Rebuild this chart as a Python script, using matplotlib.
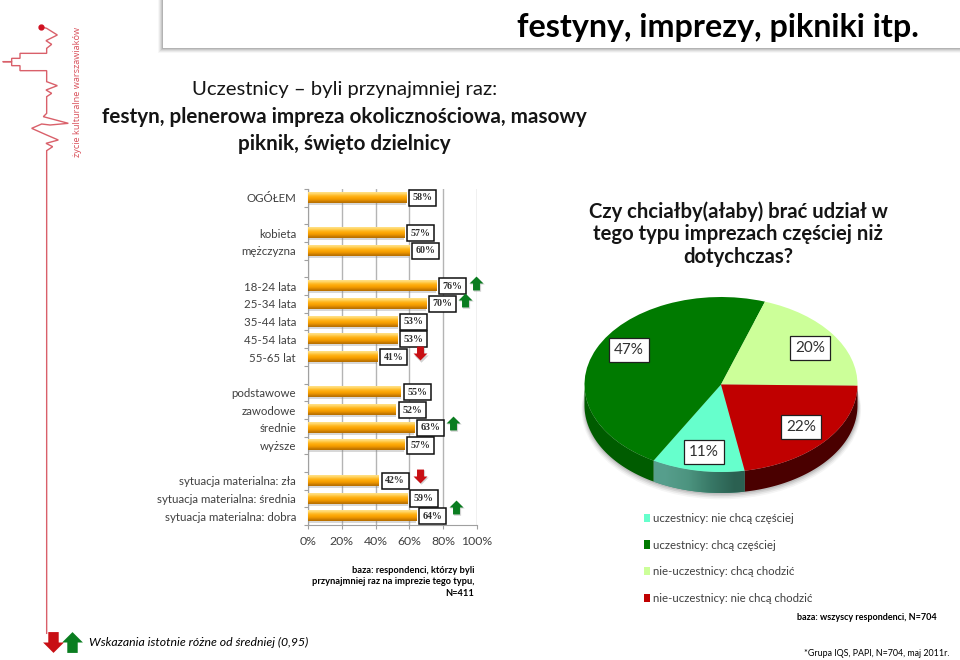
import numpy as np
import matplotlib
matplotlib.use("Agg")
import matplotlib.pyplot as plt
from matplotlib.path import Path
from matplotlib.patches import PathPatch, Rectangle, Ellipse
from matplotlib.ticker import PercentFormatter, FixedLocator

plt.rcParams['font.family'] = ['Lato', 'DejaVu Sans']

W, H = 960, 660
DARK = '#404040'

categories = ['OGÓŁEM', '', 'kobieta', 'mężczyzna', '', '18-24 lata', '25-34 lata', '35-44 lata',
              '45-54 lata', '55-65 lat', '', 'podstawowe', 'zawodowe', 'średnie', 'wyższe', '',
              'sytuacja materialna: zła', 'sytuacja materialna: średnia', 'sytuacja materialna: dobra']
values = [58, None, 57, 60, None, 76, 70, 53, 53, 41, None, 55, 52, 63, 57, None, 42, 59, 64]
up_arrows = [('18-24 lata', 99.5, -0.17), ('25-34 lata', 93, -0.2), ('średnie', 86, -0.25), ('sytuacja materialna: dobra', 87.5, -0.5)]
down_arrows = [('55-65 lat', 66, -0.2), ('sytuacja materialna: zła', 66, -0.25)]

pie_labels = ['uczestnicy: nie chcą częściej', 'uczestnicy: chcą częściej',
              'nie-uczestnicy: chcą chodzić', 'nie-uczestnicy: nie chcą chodzić']
pie_values = [11, 47, 20, 22]
pie_colors = ['#66ffcc', '#007a00', '#ccff99', '#c00000']
pie_side_colors = ['#3f8f7c', '#005c00', '#ccff99', '#4a0000']
pie_box_px = [(704, 452), (629, 350), (810, 348), (801, 427)]

fig = plt.figure(figsize=(W / 100, H / 100), dpi=100, facecolor='white')

def axes_px(x0, y0, x1, y1, **kw):
    return fig.add_axes([x0 / W, 1 - y1 / H, (x1 - x0) / W, (y1 - y0) / H], **kw)

# page layer in pixel coordinates
bg = axes_px(0, 0, W, H)
bg.set_xlim(0, W); bg.set_ylim(H, 0); bg.axis('off')

# header panel with soft shadow
for i, a in zip(range(5, 0, -1), [.06, .1, .14, .2, .28]):
    bg.add_patch(Rectangle((163 - i, -5), W, 48 + 5 + i, fc='#808080', ec='none', alpha=a))
bg.add_patch(Rectangle((163, -5), W, 53, fc='white', ec='none'))

# logo: pulse line
logo_zoom = [(122, 80), (140, 85), (172, 105), (138, 122), (155, 133), (140, 145), (140, 160), (60, 160),
             (60, 175), (35, 175), (35, 185), (8, 185), (35, 185), (35, 197), (60, 197), (60, 212),
             (140, 212), (140, 245), (172, 257), (138, 270), (155, 280), (140, 290), (140, 340), (130, 350),
             (205, 370), (150, 375), (125, 372), (95, 385), (140, 405), (175, 420), (138, 430), (158, 440),
             (140, 452), (140, 1900)]
lx, ly = np.array(logo_zoom).T / 3
bg.plot(lx, ly, color='#d9606a', lw=1.0, solid_joinstyle='miter')
bg.plot([40.7], [26.7], 'o', color='#d01020', ms=3.5)
bg.text(78, 92, 'życie kulturalne warszawiaków', rotation=90, color='#d9505a', fontsize=6.6,
        ha='center', va='center', family=['Open Sans', 'DejaVu Sans'])

bg.text(517, 27, 'festyny, imprezy, pikniki itp.', ha='left', va='center', fontsize=23.2, fontweight='bold', color='black')
bg.text(345, 90, 'Uczestnicy – byli przynajmniej raz:', ha='center', va='center', fontsize=14.6, color='#151515')
bg.text(344, 117, 'festyn, plenerowa impreza okolicznościowa, masowy', ha='center', va='center', fontsize=14.85,
        fontweight='bold', color='#151515')
bg.text(344, 144, 'piknik, święto dzielnicy', ha='center', va='center', fontsize=14.85, fontweight='bold', color='#151515')
bg.text(738, 234, 'Czy chciałby(ałaby) brać udział w\ntego typu imprezach częściej niż\ndotychczas?',
        ha='center', va='center', fontsize=14.6, fontweight='bold', color='#151515', linespacing=1.17)

bg.text(474, 582, 'baza: respondenci, którzy byli\nprzynajmniej raz na imprezie tego typu,\nN=411',
        ha='right', va='center', fontsize=6.7, fontweight='bold', color='black', linespacing=1.35)
bg.text(937, 618, 'baza: wszyscy respondenci, N=704', ha='right', va='center', fontsize=6.5, fontweight='bold', color='black')
bg.text(950, 654, '*Grupa IQS, PAPI, N=704, maj 2011r.', ha='right', va='center', fontsize=6.4, color='black')
bg.text(89, 642, 'Wskazania istotnie różne od średniej (0,95)', ha='left', va='center', fontsize=8.85,
        fontstyle='italic', color='black')

# arrow marker shapes
up_path = Path([(-.25, -.5), (.25, -.5), (.25, 0), (.5, 0), (0, .5), (-.5, 0), (-.25, 0), (-.25, -.5)], closed=True)
down_path = Path([(-.25, .5), (.25, .5), (.25, 0), (.5, 0), (0, -.5), (-.5, 0), (-.25, 0), (-.25, .5)], closed=True)

bg.plot([72], [642], marker=up_path, ms=15, color='#0a7d20', mec='none')
bg.plot([53], [642], marker=down_path, ms=15, color='#c80f14', mec='none')

# bar chart
ax = axes_px(308, 189, 477, 525)
ax.patch.set_alpha(0)
ypos = np.arange(len(categories))
vals = [np.nan if v is None else v for v in values]
ax.set_axisbelow(True)
ax.xaxis.grid(True, color='#b4b4b4', lw=1)
# soft shadow, base bar, then a cylinder shading
ax.barh(ypos + .1, vals, height=.6, color='#808080', alpha=.3, zorder=2)
bars = ax.barh(ypos, vals, height=.57, color='#f5a800', zorder=3)
grad = np.array([[[1, .88, .52]], [[1, .78, .25]], [[1, .68, .06]], [[.98, .64, 0]], [[.9, .56, 0]], [[.72, .44, 0]]])
for b, v in zip(bars, vals):
    if not np.isnan(v):
        ax.imshow(grad, extent=(0, v, b.get_y() + b.get_height(), b.get_y()), aspect='auto', zorder=4, interpolation='bicubic')
        ax.annotate(f'{v:.0f}%', (v, b.get_y() + b.get_height() / 2), xytext=(11.7, 0), textcoords='offset points',
                    ha='center', va='center', fontsize=7.2, fontweight='bold', color='#303030',
                    family=['Liberation Serif', 'DejaVu Serif'], zorder=6,
                    bbox=dict(boxstyle='square,pad=0.36', fc='white', ec='#101010', lw=1.1))
ax.set_xlim(0, 100)
ax.set_ylim(len(categories) - .5, -.5)
ax.set_xticks([0, 20, 40, 60, 80, 100])
ax.xaxis.set_major_formatter(PercentFormatter(100, decimals=0))
ax.set_yticks(ypos)
ax.set_yticklabels(categories)
ax.yaxis.set_major_locator(FixedLocator(ypos))
ax.tick_params(axis='y', length=0, pad=8.6, labelsize=8.3, labelcolor=DARK)
ax.tick_params(axis='x', length=3, width=.8, color='#a0a0a0', pad=5, labelsize=8.8, labelcolor=DARK)
ax.set_yticks(np.arange(len(categories) + 1) - .5, minor=True)
ax.tick_params(axis='y', which='minor', length=3, width=.8, color='#a0a0a0')
for s in ('top', 'right'):
    ax.spines[s].set_visible(False)
for s in ('left', 'bottom'):
    ax.spines[s].set_color('#a0a0a0')
    ax.spines[s].set_linewidth(.8)

for cat, xv, dy in up_arrows:
    y = categories.index(cat) + dy
    ax.plot([xv + .6], [y + .06], marker=up_path, ms=10.4, color='#808080', alpha=.35, mec='none', zorder=6, clip_on=False)
    ax.plot([xv], [y], marker=up_path, ms=10, color='#0a7d20', mec='none', zorder=7, clip_on=False)
for cat, xv, dy in down_arrows:
    y = categories.index(cat) + dy
    ax.plot([xv + .6], [y + .06], marker=down_path, ms=10.4, color='#808080', alpha=.35, mec='none', zorder=6, clip_on=False)
    ax.plot([xv], [y], marker=down_path, ms=10, color='#c80f14', mec='none', zorder=7, clip_on=False)

# pie chart: ellipse top with depth wall
RX, RY, CX, CY, DEPTH = 136.5, 87.5, 721, 384.5, 21
pax = axes_px(CX - RX - 10, CY - RY - 5, CX + RX + 10, CY + RY + DEPTH + 12)
pax.axis('off')
wedges, _ = pax.pie(pie_values, colors=pie_colors, startangle=-80, counterclock=False, radius=1,
                    wedgeprops=dict(lw=0), center=(0, 0))
xr = (RX + 10) / RX
top = (RY + 5) / RY
bottom = (RY + DEPTH + 12) / RY
d = DEPTH / RY

def wall(t1, t2):
    """Closed outline of the outer wall between two angles, front half only."""
    t = np.radians(np.linspace(t1, t2, 80))
    xs, ys = np.cos(t), np.sin(t)
    return Path(np.r_[np.c_[xs, ys], np.c_[xs[::-1], ys[::-1] - d], [[xs[0], ys[0]]]], closed=False)

# ground shadow
for k, a in zip(range(4, 0, -1), [.08, .12, .18, .25]):
    pax.add_patch(Ellipse((0.002, -d - .012 * k), 2 + .012 * k, 2 + .012 * k, fc='#808080', ec='none', alpha=a, zorder=0))

for w, c in zip(wedges, pie_side_colors):
    t1, t2 = w.theta1 % 360, w.theta2 % 360
    if t2 <= t1:
        t2 += 360
    lo, hi = max(t1, 180), min(t2, 360)
    if hi > lo:
        p = PathPatch(wall(lo, hi), fc=c, ec='none', zorder=1)
        pax.add_patch(p)
        if c == pie_side_colors[0]:
            g = np.array([[[.34, .62, .55], [.3, .58, .5], [.22, .47, .40], [.17, .38, .32]]])
            ext = (np.cos(np.radians(lo)), np.cos(np.radians(hi)), -1 - d, 0)
            im = pax.imshow(g, extent=ext, aspect='auto', zorder=1.5, interpolation='bilinear')
            im.set_clip_path(p)
    w.set_zorder(3)
pax.set_aspect('auto')
pax.set_xlim(-xr, xr)
pax.set_ylim(-bottom, top)

# pie value boxes
for (px, py), v in zip(pie_box_px, pie_values):
    fig.text(px / W, 1 - py / H, f'{v}%', ha='center', va='center', fontsize=11, color='#303030', zorder=5,
             bbox=dict(boxstyle='square,pad=0.32', fc='white', ec='#202020', lw=.9))

# pie legend
fig.legend(wedges, pie_labels, loc='upper left', bbox_to_anchor=(643.5 / W, 1 - 513 / H), frameon=False,
           fontsize=8.2, labelcolor=DARK, handlelength=.57, handleheight=.75, handletextpad=.3,
           labelspacing=1.37, borderpad=0, borderaxespad=0)

fig.savefig('out.png', dpi=100)
